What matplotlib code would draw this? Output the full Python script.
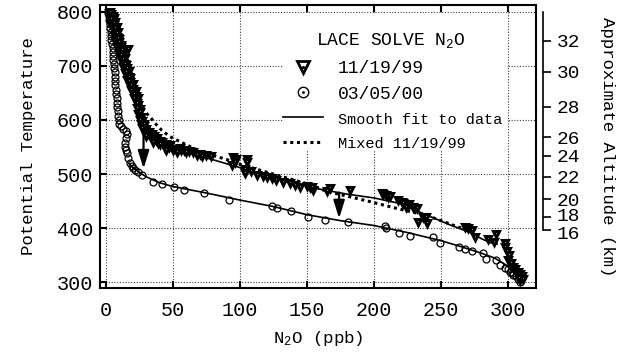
import matplotlib.pyplot as plt
import matplotlib.transforms as mtransforms
from matplotlib.lines import Line2D
from matplotlib.patches import Rectangle

plt.rcParams['font.family'] = ['Liberation Mono', 'DejaVu Sans']
plt.rcParams['mathtext.default'] = 'regular'

# 11/19/99 flight: N2O (ppb) and potential temperature (K)
nov_n2o = [2, 4, 3, 6, 5, 7, 4, 6, 8, 5, 7, 9, 6, 8, 10, 7, 9, 11, 8, 10, 12, 16.7,
           10, 12, 14, 11, 13, 15, 13, 15, 17, 14, 16, 18, 16, 18, 20, 18, 20, 22, 20,
           22, 24, 22, 24, 25, 24, 26, 27, 26, 28, 30, 32, 34, 36, 38, 40, 42, 45, 48,
           44, 50, 55, 58, 62, 65, 70, 75, 78, 95, 97, 94, 96, 105, 105, 104, 104, 108,
           113, 117, 120, 124, 127, 132, 137, 141, 145, 150, 152, 154.5, 153.5, 165,
           167, 182, 205.7, 207, 209, 210.5, 212, 218, 220.7, 222, 224, 226, 229, 232,
           233, 236.6, 239, 240, 268, 270, 273, 275.4, 285, 291.5, 290, 297.8, 299,
           298, 300.2, 301, 302, 304, 305, 307.8, 309, 310.3, 309, 311, 308,
           3, 5, 4, 6, 7, 8, 9, 10, 11, 12, 11, 13, 14, 16, 15, 17, 17, 19, 19, 21, 21,
           23, 23, 25, 25, 28, 29, 31, 33, 35, 37, 39, 43, 47, 52, 56, 60, 68, 72, 35,
           40, 30, 27, 45, 53]
nov_theta = [798, 795, 790, 789, 784, 781, 778, 775, 772, 768, 765, 762, 758, 754, 750,
             746, 742, 738, 734, 730, 726, 731, 722, 718, 714, 710, 706, 702, 698, 694,
             690, 686, 682, 678, 674, 670, 666, 662, 658, 654, 650, 645, 640, 635, 628,
             620, 612, 605, 598, 592, 588, 584, 578, 574, 570, 566, 562, 559, 556, 553,
             548, 545, 548, 544, 543, 541, 538, 535, 533, 531, 527, 517, 522, 527, 522,
             510, 502, 506, 498, 496, 495, 492, 489, 486, 483, 480, 477, 478, 477, 471,
             476, 468, 474, 471, 465, 463, 461, 458, 460, 452, 449, 447, 440, 444, 440,
             437, 412, 421, 421, 409, 403, 400, 397, 384, 381, 390, 375, 372, 357, 365,
             341, 350, 335, 329, 325, 320, 315, 311, 304, 307, 308,
             800, 792, 786, 780, 770, 760, 752, 744, 735, 729, 720, 712, 704, 696, 688,
             680, 672, 664, 656, 648, 640, 632, 622, 614, 600, 592, 580, 576, 572, 566,
             563, 558, 555, 550, 547, 545, 540, 536, 534, 560, 555, 570, 585, 545, 541]

# 03/05/00 flight
mar_n2o = [1.5, 2, 2.5, 3, 3, 3.5, 4, 4, 4.5, 5, 5, 5.5, 5.5, 6, 6, 6.5, 6.7, 7, 7,
           7.5, 7.5, 8, 8.5, 8.5, 9, 9, 9.5, 10, 11, 13, 15, 15.4, 15, 14.5, 14.2, 15,
           15.4, 16.5, 17.9, 19.2, 20.5, 21.6, 24, 26.6, 35.3, 42, 50.7, 58.3, 73.1, 92,
           123.6, 128, 138, 151, 163.4, 180.3, 208.2, 209, 218.7, 227, 244, 249, 263.7,
           268, 273, 281.6, 284, 291.5, 294, 297.8, 301.5, 304, 307.7, 309, 306, 303, 300]
mar_theta = [798, 792, 785, 778, 770, 762, 755, 748, 740, 733, 726, 718, 710, 703, 696,
             688, 680, 672, 664, 656, 648, 640, 632, 624, 616, 608, 600, 592, 588, 584,
             580, 574, 566, 558, 550, 545, 539, 530, 520, 515, 511, 507, 503, 499, 486,
             481, 477, 471, 466, 453, 441, 437, 432, 421, 416, 411, 404, 400, 392, 386,
             383, 372, 366, 361, 358, 354, 343, 341, 332, 326, 320, 313, 307, 301, 311,
             318, 324]

# smooth fits to each flight
nov_fit_n2o = [3, 6, 9, 12, 15, 18, 21, 24, 27, 30, 35, 40, 50, 60, 75, 100, 125, 145,
               160, 180, 200, 219, 233, 257, 272, 280, 287, 292]
nov_fit_theta = [800, 775, 745, 715, 690, 665, 640, 615, 596, 585, 572, 562, 548, 540,
                 530, 512, 494, 481, 472, 463, 456, 446, 431, 406, 392, 381, 373, 371]
mar_fit_n2o = [17, 20, 25, 30, 40, 50, 75, 100, 125, 150, 175, 200, 225, 250, 265, 280,
               290, 298, 304, 309]
mar_fit_theta = [520, 512, 503, 495, 484, 477, 465, 452, 440, 425, 414, 405, 392, 377,
                 366, 354, 345, 333, 320, 305]

# 11/19/99 profile after mixing
mixed_n2o = [18, 22, 25.4, 27.9, 32.8, 36.6, 41.6, 47.8, 55.2, 65, 75, 90, 100, 125,
             150, 165, 184, 199, 218, 239, 249, 262, 268]
mixed_theta = [680, 655, 631, 618, 606, 594, 581, 569, 560, 548, 538, 527, 518, 500,
               482, 468, 457, 448, 436, 424, 415, 403, 398]

# descent arrows
arrow_n2o = [28, 174]
arrow_theta_start = [575, 466]
arrow_theta_end = [510, 418]

# altitude scale on the right
altitude_km = [32, 30, 28, 26, 24, 22, 20, 18, 16]
altitude_theta = [746.6, 689.3, 624.6, 568, 533.5, 495, 454, 421, 397]


def plot_n2o_profiles(outfile: str = 'out.png') -> None:
    """
    Plots N2O against potential temperature for the two LACE flights,
    with smooth fits, the mixed profile and an approximate altitude scale.
    """
    fig = plt.figure(figsize=(6.31, 3.53), dpi=100)
    ax = fig.add_axes([0.1585, 0.1841, 0.6909, 0.8017])

    ax.plot(nov_fit_n2o, nov_fit_theta, color='black', lw=1.2, zorder=3)
    ax.plot(mar_fit_n2o, mar_fit_theta, color='black', lw=1.2, zorder=3)
    ax.plot(mixed_n2o, mixed_theta, color='black', lw=2.2, ls=(0, (1, 1.2)), zorder=3)
    ax.plot(mar_n2o, mar_theta, ls='none', marker='o', ms=5, mfc='none', mec='black',
            mew=0.9, zorder=4)
    ax.plot(nov_n2o, nov_theta, ls='none', marker='v', ms=5, mfc='white', mec='black',
            mew=2.2, zorder=5)

    for x, y0, y1 in zip(arrow_n2o, arrow_theta_start, arrow_theta_end):
        ax.annotate('', xy=(x, y1), xytext=(x, y0),
                    arrowprops=dict(arrowstyle='-|>,head_length=0.9,head_width=0.28',
                                    color='black', lw=1.6, mutation_scale=12,
                                    shrinkA=0, shrinkB=0), zorder=6)

    ax.set_xlim(-4.5, 321)
    ax.set_ylim(289.5, 812.5)
    ax.set_xticks(range(0, 301, 50))
    ax.set_yticks(range(300, 801, 100))
    ax.tick_params(direction='in', top=True, right=True, length=5, width=1.5,
                   labelsize=14.5)
    ax.tick_params(axis='x', pad=9)
    ax.tick_params(axis='y', pad=5)
    ax.grid(True, color='0.25', lw=0.8, ls=(0, (1, 1.5)))
    for spine in ax.spines.values():
        spine.set_linewidth(1.5)

    ax.set_xlabel('N$_2$O (ppb)', fontsize=12.5)
    ax.set_ylabel('Potential Temperature', fontsize=12.5)
    ax.xaxis.set_label_coords(0.5, -0.177)
    ax.xaxis.label.set_va('center')
    ax.yaxis.set_label_coords(-0.165, 0.5)
    ax.yaxis.label.set_va('center')

    # white panel behind the legend hides the grid there
    ax.add_patch(Rectangle((0.42, 0.488), 0.513, 0.484, transform=ax.transAxes,
                           facecolor='white', edgecolor='none', zorder=2))
    ax.text(0.667, 0.876, 'LACE SOLVE N$_2$O', transform=ax.transAxes, fontsize=13,
            ha='center', va='center', zorder=7)

    tri = Line2D([], [], ls='none', marker='v', ms=9, mfc='white', mec='black', mew=2)
    tri_dot = Line2D([], [], ls='none', marker='.', ms=2.5, color='black')
    circ = Line2D([], [], ls='none', marker='o', ms=7.5, mfc='none', mec='black', mew=1)
    circ_dot = Line2D([], [], ls='none', marker='.', ms=2, color='black')
    fit = Line2D([], [], color='black', lw=1.2)
    mixed = Line2D([], [], color='black', lw=2.2, ls=(0, (1, 1.2)))
    leg = ax.legend([(tri, tri_dot), (circ, circ_dot), fit, mixed],
                    ['11/19/99', '03/05/00', 'Smooth fit to data', 'Mixed 11/19/99'],
                    loc='upper left', bbox_to_anchor=(0.42, 0.805), borderpad=0,
                    borderaxespad=0, handlelength=2.2, handletextpad=0.85,
                    labelspacing=0.47, fontsize=13, frameon=False)
    leg.set_zorder(7)
    for text in leg.get_texts()[2:]:
        text.set_fontsize(11)

    # approximate altitude axis
    ax2 = ax.twinx()
    ax2.set_ylim(ax.get_ylim())
    for side in ('top', 'bottom', 'left'):
        ax2.spines[side].set_visible(False)
    ax2.spines['right'].set_position(('outward', 5))
    ax2.spines['right'].set_bounds(altitude_theta[-1], 800)
    ax2.spines['right'].set_linewidth(1.2)
    ax2.set_yticks(altitude_theta)
    ax2.set_yticklabels([str(k) for k in altitude_km])
    ax2.tick_params(axis='y', direction='out', length=6, width=1.2, labelsize=14, pad=4)
    ax2.set_ylabel('Approximate Altitude (km)', rotation=-90, fontsize=12.5)
    ax2.yaxis.set_label_coords(1.165, 0.5)
    ax2.yaxis.label.set_va('center')

    # the two lowest altitude labels sit very close together
    labels = ax2.get_yticklabels()
    labels[-1].set_transform(labels[-1].get_transform() + mtransforms.ScaledTranslation(
        0, -2 / 72, fig.dpi_scale_trans))
    labels[-2].set_transform(labels[-2].get_transform() + mtransforms.ScaledTranslation(
        0, 1.5 / 72, fig.dpi_scale_trans))

    fig.savefig(outfile, dpi=100)


plot_n2o_profiles()
